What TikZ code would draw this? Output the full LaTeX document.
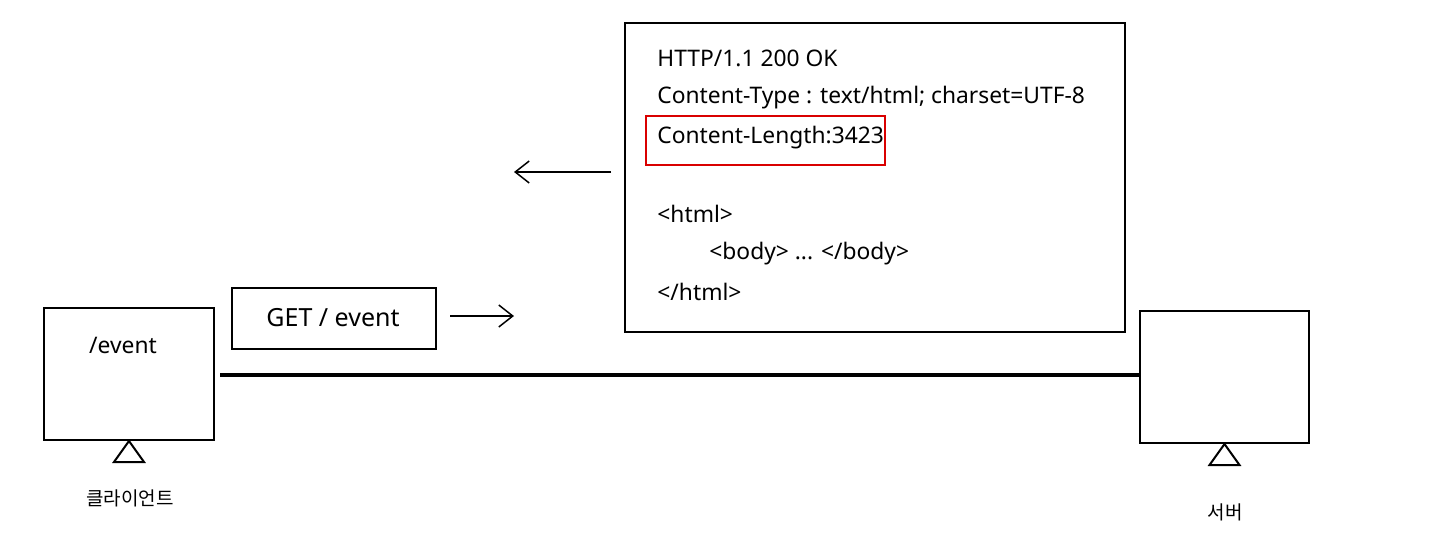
\documentclass[tikz,border=0pt]{standalone}
\usepackage{fontspec}
\setmainfont{Noto Sans}
\newfontfamily\kr{Noto Sans CJK KR}
\usetikzlibrary{arrows.meta}
\begin{document}
\begin{tikzpicture}[x=0.5pt,y=-0.5pt,
  box/.style={draw=black,line width=1pt,inner sep=0pt},
  redbox/.style={draw=red!85!black,line width=0.8pt,inner sep=0pt},
  txt/.style={font=\fontsize{11.4}{13}\selectfont,inner sep=0pt},
  lbl/.style={font=\kr\fontsize{9.5}{11}\selectfont,inner sep=0pt},
  arr/.style={line width=0.75pt,-{Straight Barb[length=7pt,width=11pt,line width=0.75pt]}},
  link/.style={line width=1.6pt}]
\useasboundingbox (0,0) rectangle (1440,536);
\fill[white] (0,0) rectangle (1440,536);
% client
\node[box,minimum width=85pt,minimum height=66pt] (client) at (129,374) {};
\node[txt] (clientpath) at (123,345) {/event};
\draw[line width=1pt] (client.south) -- ++(15,21) -- ++(-30,0) -- cycle;
\node[lbl] (clientlbl) at (130,498) {클라이언트};
% server
\node[box,minimum width=84.5pt,minimum height=66pt] (server) at (1224.5,377) {};
\draw[line width=1pt] (server.south) -- ++(15,21) -- ++(-30,0) -- cycle;
\node[lbl] (serverlbl) at (1225,512) {서버};
% link
\coordinate (linkstart) at (220,375);
\draw[link] (linkstart) -- (server.west |- linkstart);
% request
\node[box,minimum width=102pt,minimum height=30.5pt] (req) at (334,318.5) {};
\node[txt,font=\fontsize{12.5}{14}\selectfont] (reqtxt) at (333,318) {GET / event};
\coordinate (reqA) at (450,316);
\coordinate (reqB) at (514,316);
\draw[arr] (reqA) -- (reqB);
% response
\node[box,minimum width=250pt,minimum height=154.5pt] (resp) at (875,177.5) {};
\node[redbox,minimum width=119.5pt,minimum height=24.5pt] (hl) at (765.5,140.5) {};
\node[txt,anchor=west] (l1) at (657,58) {HTTP/1.1 200 OK};
\node[txt,anchor=west] (l2) at (657,98) {Content-Type : text/html; charset=UTF-8};
\node[txt,anchor=west] (l3) at (657,138) {Content-Length:3423};
\node[txt,anchor=west] (l4) at (657,214) {<html>};
\node[txt,anchor=west] (l5) at (709,254) {<body> ... </body>};
\node[txt,anchor=west] (l6) at (657,292) {</html>};
\coordinate (respA) at (611,172);
\coordinate (respB) at (514,172);
\draw[arr] (respA) -- (respB);
\end{tikzpicture}
\end{document}
